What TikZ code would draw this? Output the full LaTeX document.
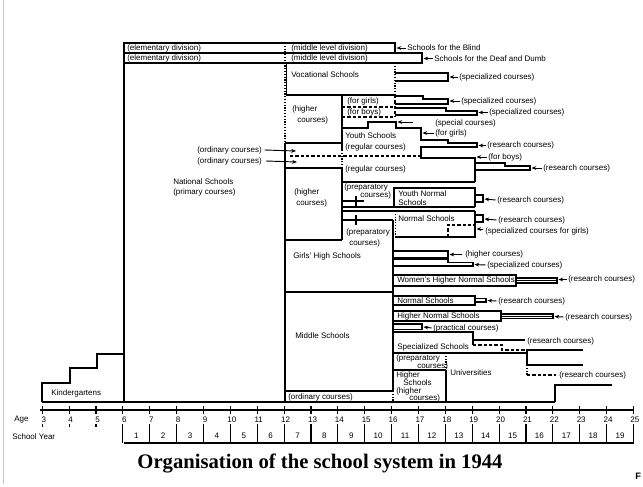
\documentclass[tikz,border=0pt]{standalone}
\usepackage{fontspec}
\setmainfont{Liberation Sans}
\newfontfamily\titlefont{Liberation Serif}
\usetikzlibrary{arrows.meta}
\begin{document}
\begin{tikzpicture}[x=0.75pt,y=-0.75pt,
  ln/.style={line width=0.85pt},
  lab/.style={font=\fontsize{6}{7}\selectfont, anchor=west, inner sep=0pt},
  labe/.style={font=\fontsize{6}{7}\selectfont, anchor=east, inner sep=0pt},
  arr/.style={line width=0.7pt, -{Stealth[length=3.5pt,width=2.8pt]}},
  dotl/.style={line width=0.85pt, dash pattern=on 0.9pt off 1.2pt},
  dashl/.style={line width=0.85pt, dash pattern=on 2.5pt off 1.5pt},
  bar/.style={line width=1.6pt}
]
\useasboundingbox (0,0) rectangle (643,486);
\draw[gray!45, line width=0.6pt] (3.5,0) -- (3.5,484);

% ---------- frame lines ----------
\draw[ln] (124,402) -- (124,43) -- (395,43) -- (395,53);
\draw[ln] (124,53) -- (422,53) -- (422,63) -- (124,63);
\draw[dotl] (285,43) -- (285,143);
% Vocational
\draw[ln] (286.5,63) -- (286.5,95) -- (395,95);
\draw[dotl] (395,63) -- (395,95);
\draw[ln] (395,73) -- (448,73) -- (448,81) -- (395,81);
% higher courses 1
\draw[ln] (342,95) -- (342,150);
\draw[dotl] (342,150) -- (342,168);
\draw[ln] (342,168) -- (342,240);
\draw[ln] (285,143) -- (342,143);
\draw[ln] (285,143) -- (285,402);
\draw[ln] (285,168) -- (342,168);
\draw[ln] (285,240) -- (342,240);
% for girls / for boys
\draw[dashl] (342,107) -- (395,107);
\draw[dashl] (342,117) -- (395,117);
\draw[dashl] (395,95) -- (395,117);
\draw[ln] (395,96) -- (423,96) -- (423,99) -- (448,99) -- (448,104) -- (395,104);
\draw[ln] (395,108) -- (446,108) -- (446,111) -- (477,111) -- (477,115) -- (395,115);
% Youth schools
\draw[ln] (342,128) -- (368,128) -- (368,122) -- (396,122) -- (396,128) -- (421,128) -- (421,140)
  -- (448,140) -- (448,143) -- (477,143) -- (477,147) -- (421,147) -- (421,158) -- (475,158) -- (475,182);
\draw[dashl] (290,156) -- (421,156);
\draw[ln] (475,163) -- (505,163) -- (505,166) -- (530,166) -- (530,170) -- (475,170);
\draw[ln] (342,182) -- (475,182);
% Youth Normal
\draw[ln] (394,207) -- (394,188) -- (475,188) -- (475,207);
\draw[ln] (475,195) -- (483,195) -- (483,202) -- (475,202);
\draw[ln] (342,207) -- (475,207);
\draw[ln] (342,211) -- (475,211);
% Normal Schools 1
\draw[ln] (475,211) -- (475,237) -- (395,237);
\draw[dotl] (395.5,211) -- (395.5,237);
\draw[dashl] (448,237) -- (448,225) -- (475,225);
\draw[ln] (475,215) -- (483,215) -- (483,222) -- (475,222);
% preparatory markers
\draw[ln] (342,201) -- (364,201);
\draw[bar] (356,196) -- (356,206);
\draw[ln] (342,220) -- (393,220);
\draw[bar] (356,215) -- (356,225);
% right side of middle region
\draw[ln] (393,220) -- (393,391);
\draw[dotl] (393,391) -- (393,402);
\draw[ln] (285,292) -- (393,292);
\draw[ln] (285,391) -- (393,391);
% Girls' high extensions
\draw[ln] (393,251) -- (448,251) -- (448,258) -- (393,258);
\draw[ln] (393,259.5) -- (448,259.5) -- (448,262.5) -- (473,262.5) -- (473,266) -- (393,266);
% Women's Higher Normal
\draw[ln] (393,275) -- (516,275) -- (516,286) -- (393,286);
\draw[ln] (516,278) -- (557,278) -- (557,283) -- (516,283);
\draw[ln] (516,280.5) -- (557,280.5);
% Normal Schools 2
\draw[ln] (393,296) -- (475,296) -- (475,305) -- (393,305);
\draw[ln] (475,298.5) -- (486,298.5) -- (486,302) -- (475,302);
% Higher Normal
\draw[ln] (393,311) -- (501,311) -- (501,321) -- (393,321);
\draw[ln] (501,314) -- (553,314) -- (553,318.5) -- (501,318.5);
\draw[ln] (501,316.2) -- (553,316.2);
% practical
\draw[ln] (393,324) -- (422,324) -- (422,329.5) -- (393,329.5);
% Specialized
\draw[ln] (393,332) -- (473,332) -- (473,345);
\draw[ln] (473,340) -- (525,340);
\draw[dashl] (473,345) -- (502,345) -- (502,350) -- (527,350);
\draw[ln] (393,353) -- (527,353);
% Universities
\draw[ln] (583,350) -- (527,350) -- (527,365) -- (583,365);
\draw[dotl] (527,365) -- (527,375);
\draw[dashl] (527,375) -- (556,375);
\draw[ln] (612,385) -- (555,385) -- (555,402);
\draw[ln] (393,370) -- (446,370);
\draw[dotl] (446,353) -- (446,370);
\draw[ln] (446,370) -- (446,402);
% bottom + kindergarten
\draw[ln] (42,402) -- (555,402);
\draw[ln] (42,402) -- (42,383) -- (70,383) -- (70,368) -- (97,368) -- (97,354) -- (124,354);

% ---------- texts ----------
\node[lab] (t1) at (127,48) {(elementary division)};
\node[lab] (t2) at (127,58.5) {(elementary division)};
\node[lab] (t3) at (291,48) {(middle level division)};
\node[lab] (t4) at (291,58.5) {(middle level division)};
\node[lab] (tBlind) at (407,48) {Schools for the Blind};
\node[lab] (tDeaf) at (434,58.5) {Schools for the Deaf and Dumb};
\node[lab] (tVoc) at (291,75) {Vocational Schools};
\node[lab] (tVocS) at (459,77) {(specialized courses)};
\node[lab] (tHi1a) at (292,109) {(higher};
\node[lab] (tHi1b) at (297,120) {courses)};
\node[lab] (tGirls) at (347,101) {(for girls)};
\node[lab] (tBoys) at (347,112) {(for boys)};
\node[lab] (tGirlsS) at (461,101) {(specialized courses)};
\node[lab] (tBoysS) at (489,112.5) {(specialized courses)};
\node[lab] (tSpecial) at (435,123) {(special courses)};
\node[lab] (tYgirls) at (435,133) {(for girls)};
\node[lab] (tYouth) at (345,136) {Youth Schools};
\node[lab] (tReg1) at (345,147) {(regular courses)};
\node[lab] (tRes1) at (487,145.5) {(research courses)};
\node[labe] (tOrd1) at (262,150) {(ordinary courses)};
\node[labe] (tOrd2) at (262,161) {(ordinary courses)};
\node[lab] (tForBoys) at (488,157) {(for boys)};
\node[lab] (tRes2) at (543,168) {(research courses)};
\node[lab] (tReg2) at (345,169.5) {(regular courses)};
\node[lab] (tHi2a) at (294,192) {(higher};
\node[lab] (tHi2b) at (296,203) {courses)};
\node[lab] (tPrep1a) at (344,187) {(preparatory};
\node[lab] (tPrep1b) at (360,195.5) {courses)};
\node[lab] (tYN1) at (398,193.5) {Youth Normal};
\node[lab] (tYN2) at (398,203) {Schools};
\node[lab] (tRes3) at (497,200) {(research courses)};
\node[lab] (tNormal1) at (398,218.5) {Normal Schools};
\node[lab] (tRes4) at (498,220) {(research courses)};
\node[lab] (tSpecGirls) at (485,231.5) {(specialized courses for girls)};
\node[lab] (tPrep2a) at (346,232) {(preparatory};
\node[lab] (tPrep2b) at (349,243) {courses)};
\node[lab] (tGirlsHigh) at (293,256) {Girls' High Schools};
\node[lab] (tHC) at (465,254.5) {(higher courses)};
\node[lab] (tSC) at (487,265) {(specialized courses)};
\node[lab] (tWHN) at (397,280.5) {Women's Higher Normal Schools};
\node[lab] (tRes5) at (568,279.5) {(research courses)};
\node[lab] (tNormal2) at (397,300.5) {Normal Schools};
\node[lab] (tRes6) at (498,301) {(research courses)};
\node[lab] (tHN) at (397,316.5) {Higher Normal Schools};
\node[lab] (tRes7) at (565,317) {(research courses)};
\node[lab] (tPrac) at (433,328) {(practical courses)};
\node[lab] (tSpecS) at (397,347) {Specialized Schools};
\node[lab] (tRes8) at (527,341) {(research courses)};
\node[lab] (tRes9) at (559,375.5) {(research courses)};
\node[lab] (tMiddle) at (295,336) {Middle Schools};
\node[lab] (tOrd3) at (288,397) {(ordinary courses)};
\node[lab] (tPrep3a) at (396,358.5) {(preparatory};
\node[lab] (tPrep3b) at (417,366) {courses)};
\node[lab] (tHS1) at (396,375) {Higher};
\node[lab] (tHS2) at (403,383) {Schools};
\node[lab] (tHS3) at (396,391) {(higher};
\node[lab] (tHS4) at (409,398.5) {courses)};
\node[lab] (tUniv) at (450,373) {Universities};
\node[lab] (tNat1) at (173,182) {National Schools};
\node[lab] (tNat2) at (173,192) {(primary courses)};
\node[lab] (tKind) at (51,393) {Kindergartens};

% ---------- arrows ----------
\coordinate (cBlind) at (396.5,48);
\coordinate (cDeaf) at (423.5,58.5);
\coordinate (cVocS) at (449.5,77);
\coordinate (cGirlsS) at (449.5,101);
\coordinate (cBoysS) at (478.5,112.5);
\coordinate (cSp1) at (413,122);
\coordinate (cSp2) at (397.5,122);
\coordinate (cYgirls) at (422.5,133);
\coordinate (cRes1) at (478.5,145.5);
\coordinate (cOrd1) at (296,151);
\coordinate (cOrd2) at (297,162);
\coordinate (cForBoys) at (476.5,157);
\coordinate (cRes2) at (531.5,168);
\coordinate (cRes3) at (484.5,199);
\coordinate (cRes4) at (484.5,219);
\coordinate (cSG1) at (483,229);
\coordinate (cSG2) at (476.5,229);
\coordinate (cHC) at (449.5,254.5);
\coordinate (cSC) at (474.5,264.5);
\coordinate (cRes5) at (558.5,279.5);
\coordinate (cRes6) at (487.5,300.5);
\coordinate (cRes7) at (554.5,316.5);
\coordinate (cPrac) at (423.5,327);
\draw[arr] ([xshift=-1pt]tBlind.west) -- (cBlind);
\draw[arr] ([xshift=-1pt]tDeaf.west) -- (cDeaf);
\draw[arr] ([xshift=-1pt]tVocS.west) -- (cVocS);
\draw[arr] ([xshift=-1pt]tGirlsS.west) -- (cGirlsS);
\draw[arr] ([xshift=-1pt]tBoysS.west) -- (cBoysS);
\draw[arr] (cSp1) -- (cSp2);
\draw[arr] ([xshift=-1pt]tYgirls.west) -- (cYgirls);
\draw[arr] ([xshift=-1pt]tRes1.west) -- (cRes1);
\draw[arr] ([xshift=2pt]tOrd1.east) -- (cOrd1);
\draw[arr] ([xshift=3pt]tOrd2.east) -- (cOrd2);
\draw[arr] ([xshift=-1pt]tForBoys.west) -- (cForBoys);
\draw[arr] ([xshift=-1pt]tRes2.west) -- (cRes2);
\draw[arr] ([xshift=-1pt]tRes3.west) -- (cRes3);
\draw[arr] ([xshift=-1pt]tRes4.west) -- (cRes4);
\draw[arr] (cSG1) -- (cSG2);
\draw[arr] ([xshift=-2pt]tHC.west) -- (cHC);
\draw[arr] ([xshift=-1pt]tSC.west) -- (cSC);
\draw[arr] ([xshift=-1pt]tRes5.west) -- (cRes5);
\draw[arr] ([xshift=-1pt]tRes6.west) -- (cRes6);
\draw[arr] ([xshift=-1pt]tRes7.west) -- (cRes7);
\draw[arr] ([xshift=-1pt]tPrac.west) -- (cPrac);

% ---------- axis ----------
\node[lab] (tAge) at (14,420) {Age};
\node[lab] (tSY) at (12,437) {School Year};
\draw[ln] (40,410) -- (634,410);
\foreach \a in {3,...,25}{
  \pgfmathsetmacro{\xx}{42.3+(\a-3)*26.87}
  \draw[ln] (\xx,406) -- (\xx,414);
  \node[font=\fontsize{6}{7}\selectfont, inner sep=0pt] at (\xx+1.5,420) {\a};
}
\foreach \a in {3,4,5}{
  \pgfmathsetmacro{\xx}{42.3+(\a-3)*26.87}
  \draw[ln] (\xx,424) -- (\xx,427);
}
\foreach \a in {6,...,25}{
  \pgfmathsetmacro{\xx}{42.3+(\a-3)*26.87}
  \draw[ln] (\xx,424) -- (\xx,443);
}
\draw[ln] (124,443) -- (634,443);
\foreach \j in {1,...,19}{
  \pgfmathsetmacro{\xx}{42.3+(\j+2.5)*26.87}
  \node[font=\fontsize{6}{7}\selectfont, inner sep=0pt] at (\xx,436) {\j};
}

% ---------- title ----------
\node[font=\titlefont\bfseries\fontsize{15.5}{18}\selectfont, inner sep=0pt] (title) at (320,463) {Organisation of the school system in 1944};
\node[font=\bfseries\fontsize{7}{8}\selectfont, anchor=west, inner sep=0pt] (tF) at (635,476) {F};
\end{tikzpicture}
\end{document}
